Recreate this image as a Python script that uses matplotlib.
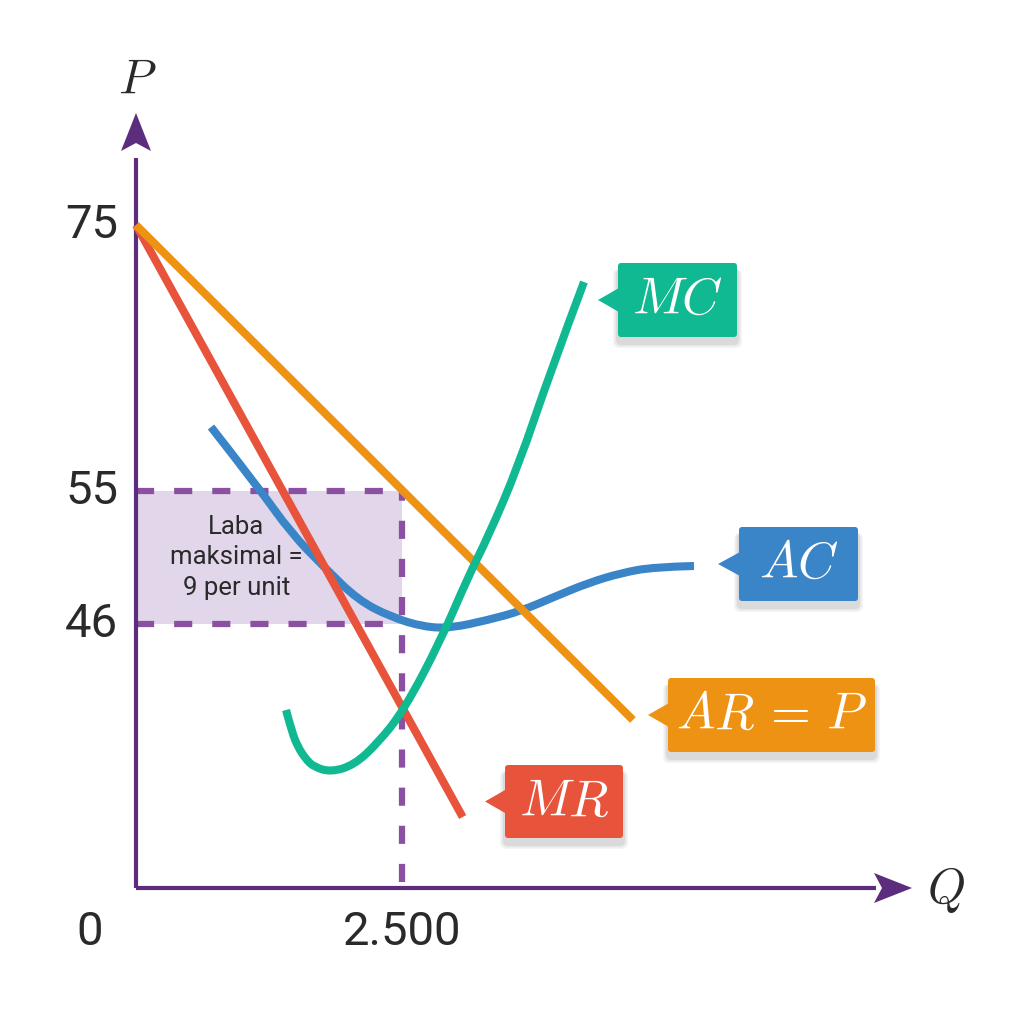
import numpy as np
import matplotlib
matplotlib.use('Agg')
import matplotlib.pyplot as plt
from matplotlib.patches import Polygon, Rectangle, FancyBboxPatch, PathPatch
from matplotlib.path import Path

plt.rcParams['mathtext.fontset'] = 'cm'
plt.rcParams['font.family'] = ['Roboto', 'DejaVu Sans']

# x in Q (units), y in schematic chart height (the P axis is not to scale)
ar_q = [0, 4670]
ar_h = [66.3, 16.8]
mr_q = [0, 3070]
mr_h = [66.3, 7.1]
ac_q = [705, 1147, 1457, 1767, 2086, 2396, 2707, 2960, 3308, 3618, 3928, 4248, 4558, 4868, 5244]
ac_h = [46.1, 40.1, 35.5, 32.1, 28.8, 27.1, 26.1, 26.0, 26.8, 27.7, 29.1, 30.5, 31.5, 32.1, 32.2]
mc_q = [1410, 1465, 1522, 1595, 1673, 1833, 2049, 2274, 2519, 2866, 3120, 3308, 3590, 3900, 4210]
mc_h = [17.8, 15.6, 14.1, 12.9, 12.1, 11.6, 12.3, 14.5, 17.8, 24.8, 31.1, 35.1, 42.1, 51.8, 60.6]

q_opt = 2500
q_ticks = ['0', '2.500']
p_labels = ['75', '55', '46']
p_pos = [66.3, 39.7, 26.4]

c_axis = '#5c2d7c'
c_dash = '#8c50a2'
c_fill = '#e2d6ea'
c_ar = '#ee9214'
c_mr = '#e8533b'
c_ac = '#3a85c8'
c_mc = '#10b991'
c_txt = '#2a2a2a'


def smooth_path(xs, ys):
    # quadratic bezier pieces through the midpoints of the read points
    pts = list(zip(xs, ys))
    verts = [pts[0]]
    codes = [Path.MOVETO]
    for i in range(1, len(pts) - 1):
        mid = ((pts[i][0] + pts[i + 1][0]) / 2, (pts[i][1] + pts[i + 1][1]) / 2)
        if i == len(pts) - 2:
            mid = pts[-1]
        verts += [pts[i], mid]
        codes += [Path.CURVE3, Path.CURVE3]
    return Path(verts, codes)


fig = plt.figure(figsize=(10.24, 10.24), dpi=100)
ax = fig.add_axes([0, 0, 1, 1])
ax.set_xlim(-136 * 9.398, 888 * 9.398)
ax.set_ylim(-13.6, 88.8)
ax.axis('off')

# profit area
ax.add_patch(Rectangle((0, p_pos[2]), q_opt, p_pos[1] - p_pos[2], color=c_fill, lw=0, zorder=1))
dash_kw = dict(color=c_dash, lw=4.5, dashes=(2.9, 3.2), solid_capstyle='butt', zorder=2)
ax.plot([0, q_opt], [p_pos[1], p_pos[1]], **dash_kw)
ax.plot([0, q_opt], [p_pos[2], p_pos[2]], **dash_kw)
ax.plot([q_opt, q_opt], [0.6, p_pos[1]], **dash_kw)

# axes lines
ax.plot([0, 0], [0, 73], color=c_axis, lw=3, zorder=3, solid_capstyle='butt')
ax.plot([0, 740 * 9.398], [0, 0], color=c_axis, lw=3, zorder=3, solid_capstyle='butt')

lw = 5.8
ax.add_patch(PathPatch(smooth_path(ac_q, ac_h), fill=False, edgecolor=c_ac, lw=lw,
                       capstyle='butt', joinstyle='round', zorder=4))
ax.plot(mr_q, mr_h, color=c_mr, lw=lw, solid_capstyle='butt', zorder=5)
ax.plot(ar_q, ar_h, color=c_ar, lw=lw, solid_capstyle='butt', zorder=6)
ax.add_patch(PathPatch(smooth_path(mc_q, mc_h), fill=False, edgecolor=c_mc, lw=lw,
                       capstyle='butt', joinstyle='round', zorder=7))

# tick labels
for lab, h in zip(p_labels, p_pos):
    ax.text(-18 * 9.398, h, lab, ha='right', va='center', fontsize=34, color=c_txt)
ax.text(-46 * 9.398, -4.4, q_ticks[0], ha='center', va='center', fontsize=34, color=c_txt)
ax.text(q_opt, -4.4, q_ticks[1], ha='center', va='center', fontsize=34, color=c_txt)

ax.text(q_opt / 2.65, (p_pos[1] + p_pos[2]) / 2, 'Laba\nmaksimal =\n9 per unit',
        ha='center', va='center', fontsize=18.5, linespacing=1.35, color=c_txt, zorder=3)

# overlay in pixel coordinates for arrows and callouts
ov = fig.add_axes([0, 0, 1, 1], zorder=10)
ov.set_xlim(0, 1024)
ov.set_ylim(1024, 0)
ov.axis('off')
ov.patch.set_alpha(0)

ov.add_patch(Polygon([(136, 113), (151, 151), (136, 143), (121, 151)], closed=True, color=c_axis, lw=0))
ov.add_patch(Polygon([(912, 888), (874, 903), (882, 888), (874, 873)], closed=True, color=c_axis, lw=0))
ov.text(137, 80, r'$P$', ha='center', va='center', fontsize=35, color=c_txt)
ov.text(946, 890, r'$Q$', ha='center', va='center', fontsize=35, color=c_txt)


def callout(x0, x1, y0, y1, tip_x, color, label):
    yc = (y0 + y1) / 2
    for k, a in zip([10, 7, 4], [0.04, 0.05, 0.06]):
        ov.add_patch(FancyBboxPatch((x0 - k / 2, y0 + 6), x1 - x0 + k, y1 - y0 + k / 2,
                                    boxstyle='round,pad=0,rounding_size=6', color='black',
                                    alpha=a, lw=0))
    ov.add_patch(FancyBboxPatch((x0, y0), x1 - x0, y1 - y0, boxstyle='round,pad=0,rounding_size=3',
                                color=color, lw=0))
    ov.add_patch(Polygon([(x0 + 1, yc - 12), (tip_x, yc), (x0 + 1, yc + 12)], closed=True, color=color, lw=0))
    ov.text((x0 + x1) / 2, yc, label, ha='center', va='center', fontsize=37, color='white')


callout(618, 737, 263, 337, 598, c_mc, r'$MC$')
callout(739, 858, 527, 601, 718, c_ac, r'$AC$')
callout(668, 875, 678, 752, 648, c_ar, r'$AR\,=\,P$')
callout(505, 623, 765, 838, 485, c_mr, r'$MR$')

fig.savefig('out.png', dpi=100, facecolor='white')
